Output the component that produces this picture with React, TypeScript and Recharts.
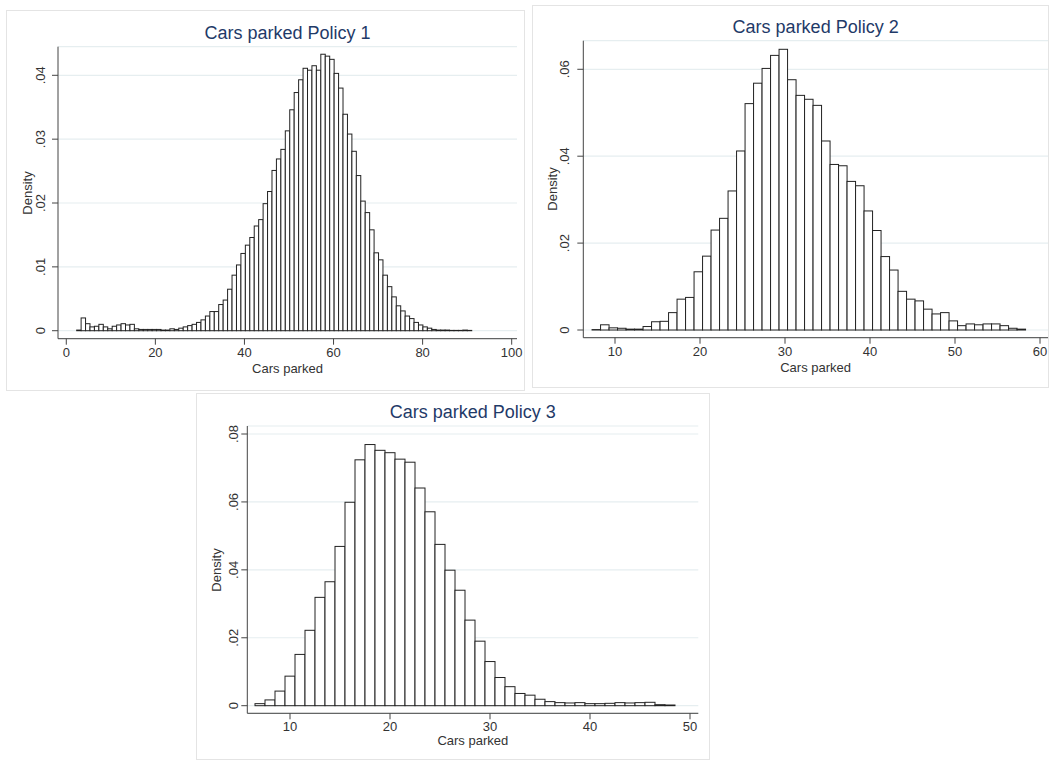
import React from "react";
import { BarChart, Bar, XAxis, YAxis, CartesianGrid } from "recharts";

// Bin layout: first bin centre and bin width, per policy
const policy1FirstBin = 2.83;
const policy1BinWidth = 0.9966;
const policy2FirstBin = 7.8;
const policy2BinWidth = 1;
const policy3FirstBin = 7;
const policy3BinWidth = 1;

// Density per bin
const policy1Density = [
  0.0001, 0.002, 0.0011, 0.0006, 0.0007, 0.001, 0.0006, 0.0003, 0.0007, 0.0009,
  0.0011, 0.0009, 0.001, 0.0003, 0.0002, 0.0002, 0.0002, 0.0002, 0.0002, 0.0001,
  0.0001, 0.0003, 0.0002, 0.0004, 0.0006, 0.0008, 0.001, 0.0013, 0.0017, 0.0023,
  0.003, 0.003, 0.0041, 0.0048, 0.0065, 0.0087, 0.0103, 0.0121, 0.0134, 0.0146,
  0.0164, 0.0174, 0.0199, 0.0218, 0.0251, 0.0269, 0.0284, 0.0313, 0.0346, 0.0373,
  0.0393, 0.0411, 0.0408, 0.0415, 0.0408, 0.0433, 0.043, 0.0425, 0.0403, 0.038,
  0.0339, 0.0308, 0.0281, 0.0243, 0.0203, 0.0185, 0.0158, 0.0122, 0.0111, 0.0087,
  0.0069, 0.0053, 0.0039, 0.0031, 0.0023, 0.0019, 0.0013, 0.0009, 0.0006, 0.0004,
  0.0002, 0.0001, 0.0001, 0.0001, 0.00005, 0.00005, 0.00005, 0.0001, 0.00005,
];

const policy2Density = [
  0.0001, 0.0012, 0.0005, 0.0004, 0.0002, 0.0002, 0.0008, 0.0019, 0.002, 0.004,
  0.0071, 0.0075, 0.0134, 0.017, 0.023, 0.0257, 0.032, 0.0412, 0.0521, 0.0568,
  0.0602, 0.0632, 0.0646, 0.0576, 0.054, 0.0531, 0.0517, 0.0435, 0.0381, 0.0378,
  0.0342, 0.0332, 0.0274, 0.0229, 0.0169, 0.0138, 0.0089, 0.0071, 0.0067, 0.0048,
  0.0037, 0.004, 0.0021, 0.001, 0.0014, 0.0012, 0.0014, 0.0014, 0.001, 0.0004,
  0.0002,
];

const policy3Density = [
  0.0006, 0.0017, 0.0043, 0.0087, 0.0151, 0.0222, 0.0319, 0.0365, 0.0469, 0.0599,
  0.0724, 0.0769, 0.0752, 0.0745, 0.0726, 0.0717, 0.0641, 0.0571, 0.0475, 0.0399,
  0.034, 0.0252, 0.019, 0.013, 0.0083, 0.0056, 0.0036, 0.0031, 0.0019, 0.0012,
  0.0009, 0.0008, 0.0009, 0.0006, 0.0006, 0.0007, 0.0009, 0.0008, 0.0009, 0.001,
  0.0003, 0.0002,
];

const policy1XTicks = [0, 20, 40, 60, 80, 100];
const policy1YTicks = [0, 0.01, 0.02, 0.03, 0.04];
const policy2XTicks = [10, 20, 30, 40, 50, 60];
const policy2YTicks = [0, 0.02, 0.04, 0.06];
const policy3XTicks = [10, 20, 30, 40, 50];
const policy3YTicks = [0, 0.02, 0.04, 0.06, 0.08];

const FONT = '"Liberation Sans", Arial, sans-serif';
const TITLE_COLOR = "#1f3a68";
const TEXT_COLOR = "#333";
const AXIS_COLOR = "#444";
const GRID_COLOR = "#e6eef0";

type Bin = { x: number; density: number };

function toBins(first: number, width: number, values: number[]): Bin[] {
  return values.map((density, i) => ({ x: first + i * width, density }));
}

function fmtDensity(v: number) {
  return v === 0 ? "0" : v.toFixed(2).replace(/^0/, "");
}

type Rect = { left: number; top: number; right: number; bottom: number };

type PanelProps = {
  title: string;
  data: Bin[];
  binWidth: number;
  box: Rect;
  plot: Rect;
  xDomain: [number, number];
  yDomain: [number, number];
  xTicks: number[];
  yTicks: number[];
  yTickOffset: number;
  xTickOffset: number;
  xLabelY: number;
  yLabelX: number;
  titleY: number;
};

function Histogram(props: PanelProps) {
  const {
    title, data, binWidth, box, plot, xDomain, yDomain, xTicks, yTicks,
    yTickOffset, xTickOffset, xLabelY, yLabelX, titleY,
  } = props;

  const width = box.right - box.left;
  const height = box.bottom - box.top;
  const yAxisWidth = plot.left - box.left;
  const xAxisHeight = box.bottom - plot.bottom;
  const margin = {
    top: plot.top - box.top,
    right: box.right - plot.right,
    left: 0,
    bottom: 0,
  };
  const binPx = (binWidth * (plot.right - plot.left)) / (xDomain[1] - xDomain[0]);
  const centerX = (plot.left + plot.right) / 2;
  const centerY = (plot.top + plot.bottom) / 2;

  const renderYTick = (p: any) => {
    const cx = p.x + 8 - yTickOffset;
    return (
      <text
        x={cx}
        y={p.y}
        transform={`rotate(-90 ${cx} ${p.y})`}
        textAnchor="middle"
        dominantBaseline="central"
        fontSize={13}
        fontFamily={FONT}
        fill={TEXT_COLOR}
      >
        {fmtDensity(p.payload.value)}
      </text>
    );
  };

  const renderXTick = (p: any) => (
    <text
      x={p.x}
      y={p.y - 8 + xTickOffset}
      textAnchor="middle"
      dominantBaseline="central"
      fontSize={13}
      fontFamily={FONT}
      fill={TEXT_COLOR}
    >
      {p.payload.value}
    </text>
  );

  const renderBar = (p: any) => (
    <rect
      x={p.x}
      y={p.y}
      width={binPx}
      height={Math.max(p.height, 0)}
      fill="#fff"
      stroke="#222"
      strokeWidth={1}
    />
  );

  return (
    <>
      <div
        style={{
          position: "absolute",
          left: box.left,
          top: box.top,
          width,
          height,
          boxSizing: "border-box",
          border: "1px solid #e4e4e4",
        }}
      />
      <div style={{ position: "absolute", left: box.left, top: box.top }}>
        <BarChart
          width={width}
          height={height}
          data={data}
          margin={margin}
          barCategoryGap={0}
          barGap={0}
        >
          <CartesianGrid horizontal={true} vertical={false} stroke={GRID_COLOR} strokeWidth={1.2} />
          <XAxis
            dataKey="x"
            type="number"
            domain={xDomain}
            allowDataOverflow
            ticks={xTicks}
            interval={0}
            height={xAxisHeight}
            tickSize={6}
            tickMargin={2}
            stroke={AXIS_COLOR}
            tick={renderXTick}
          />
          <YAxis
            type="number"
            domain={yDomain}
            allowDataOverflow
            ticks={yTicks}
            interval={0}
            width={yAxisWidth}
            tickSize={6}
            tickMargin={2}
            stroke={AXIS_COLOR}
            tick={renderYTick}
          />
          <Bar dataKey="density" isAnimationActive={false} shape={renderBar} />
        </BarChart>
      </div>
      <div
        style={{
          position: "absolute",
          left: centerX,
          top: titleY,
          transform: "translate(-50%, -50%)",
          whiteSpace: "nowrap",
          lineHeight: 1,
          fontSize: 18,
          color: TITLE_COLOR,
        }}
      >
        {title}
      </div>
      <div
        style={{
          position: "absolute",
          left: centerX,
          top: xLabelY,
          transform: "translate(-50%, -50%)",
          whiteSpace: "nowrap",
          lineHeight: 1,
          fontSize: 13,
          color: TEXT_COLOR,
        }}
      >
        Cars parked
      </div>
      <div
        style={{
          position: "absolute",
          left: yLabelX,
          top: centerY,
          transform: "translate(-50%, -50%) rotate(-90deg)",
          whiteSpace: "nowrap",
          lineHeight: 1,
          fontSize: 13,
          color: TEXT_COLOR,
        }}
      >
        Density
      </div>
    </>
  );
}

export default function App() {
  return (
    <div
      style={{
        position: "relative",
        width: 1049,
        height: 760,
        background: "#fff",
        fontFamily: FONT,
        overflow: "hidden",
      }}
    >
      <style>{"body{margin:0}"}</style>
      <Histogram
        title="Cars parked Policy 1"
        data={toBins(policy1FirstBin, policy1BinWidth, policy1Density)}
        binWidth={policy1BinWidth}
        box={{ left: 6, top: 10, right: 525, bottom: 391 }}
        plot={{ left: 58, top: 46.7, right: 517, bottom: 338.7 }}
        xDomain={[-1.86, 101.19]}
        yDomain={[-0.00125, 0.04448]}
        xTicks={policy1XTicks}
        yTicks={policy1YTicks}
        yTickOffset={17.5}
        xTickOffset={14}
        xLabelY={368}
        yLabelX={26.7}
        titleY={32.7}
      />
      <Histogram
        title="Cars parked Policy 2"
        data={toBins(policy2FirstBin, policy2BinWidth, policy2Density)}
        binWidth={policy2BinWidth}
        box={{ left: 532, top: 5, right: 1049, bottom: 388 }}
        plot={{ left: 583.3, top: 40.7, right: 1048, bottom: 337.7 }}
        xDomain={[6.27, 60.94]}
        yDomain={[-0.00177, 0.06658]}
        xTicks={policy2XTicks}
        yTicks={policy2YTicks}
        yTickOffset={19}
        xTickOffset={14}
        xLabelY={366.7}
        yLabelX={551.7}
        titleY={26.7}
      />
      <Histogram
        title="Cars parked Policy 3"
        data={toBins(policy3FirstBin, policy3BinWidth, policy3Density)}
        binWidth={policy3BinWidth}
        box={{ left: 196, top: 393, right: 710, bottom: 760 }}
        plot={{ left: 247.3, top: 426, right: 698.3, bottom: 713.3 }}
        xDomain={[5.73, 50.83]}
        yDomain={[-0.00224, 0.08236]}
        xTicks={policy3XTicks}
        yTicks={policy3YTicks}
        yTickOffset={14}
        xTickOffset={13.4}
        xLabelY={740}
        yLabelX={215.7}
        titleY={411.7}
      />
    </div>
  );
}
